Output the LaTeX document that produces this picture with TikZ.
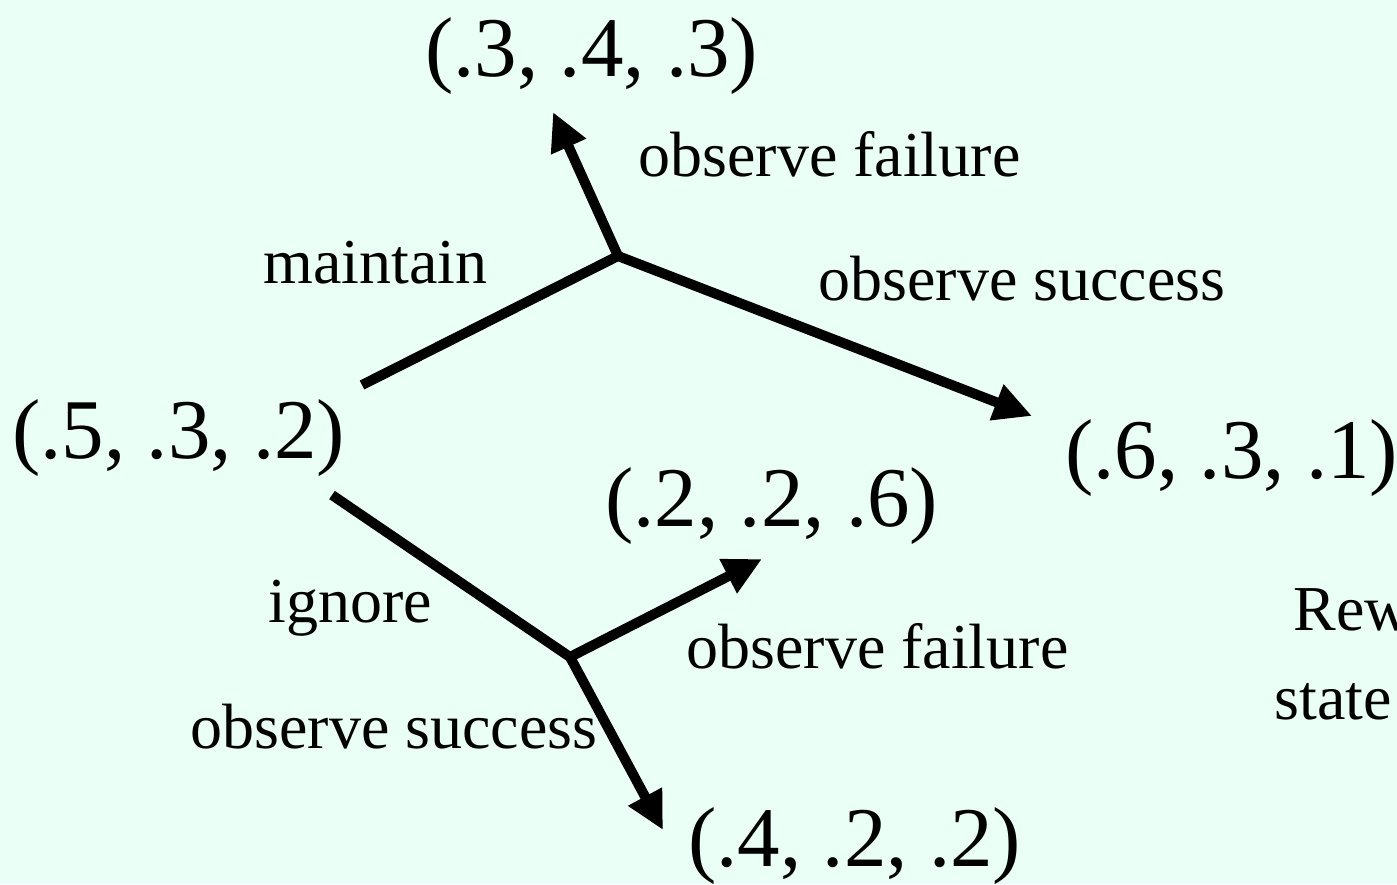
\documentclass[tikz,border=0pt]{standalone}
\usepackage{fontspec}
\setmainfont{Liberation Serif}
\usetikzlibrary{arrows.meta}
\definecolor{bgmint}{HTML}{EAFFF5}
\tikzset{
  big/.style={font=\fontsize{42.5}{50}\selectfont, inner sep=0pt, anchor=base west},
  lab/.style={font=\fontsize{32}{38}\selectfont, inner sep=0pt, anchor=base west},
  edge/.style={line width=5pt},
  arr/.style={line width=5pt, -{Triangle[length=19pt,width=18pt]}},
}
\begin{document}
\begin{tikzpicture}[x=0.5pt,y=-0.5pt]
\fill[bgmint] (0,0) rectangle (1397,884);
\useasboundingbox (0,0) rectangle (1397,884);
\clip (0,0) rectangle (1397,884);
% state nodes
\node[big] (s0) at (12,458) {(.5, .3, .2)};
\node[big] (s1) at (425,76) {(.3, .4, .3)};
\node[big] (s2) at (1065,478) {(.6, .3, .1)};
\node[big] (s3) at (605,526) {(.2, .2, .6)};
\node[big] (s4) at (688,866) {(.4, .2, .2)};
% labels
\node[lab] (lm) at (263,283) {maintain};
\node[lab] (lf1) at (638,176) {observe failure};
\node[lab] (ls1) at (818,300) {observe success};
\node[lab] (li) at (268,622) {ignore};
\node[lab] (lf2) at (686,668) {observe failure};
\node[lab] (ls2) at (190,748) {observe success};
\node[lab] (rw) at (1293,630) {Rew};
\node[lab] (st) at (1274,719) {state};
% branch points
\coordinate (m0) at (362,385);
\coordinate (m) at (618,256);
\coordinate (i0) at (332,495);
\coordinate (i) at (570,657);
\coordinate (t1) at (553,112);
\coordinate (t2) at (1032,416);
\coordinate (t3) at (762,559);
\coordinate (t4) at (663,830);
\draw[edge, line cap=butt] (m0) -- (m);
\draw[edge, line cap=butt] (i0) -- (i);
\draw[arr] (m) -- (t1);
\draw[arr] (m) -- (t2);
\draw[arr] (i) -- (t3);
\draw[arr] (i) -- (t4);
\end{tikzpicture}
\end{document}
